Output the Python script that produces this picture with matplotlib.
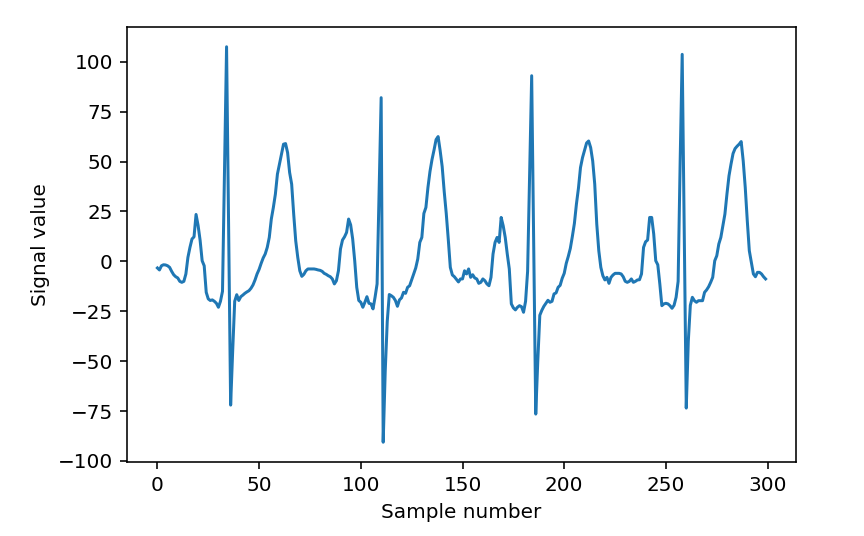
import numpy as np
import matplotlib
matplotlib.use('Agg')
import matplotlib.pyplot as plt

# Signal values (300 samples, 4 beats)
beat_1 = [-3.3, -4.3, -2.2, -1.7, -1.8, -2.2, -3.0, -5.0, -6.7, -7.7,
          -8.3, -10.0, -10.5, -10.0, -6.3, 2.0, 7.0, 11.2, 12.3, 23.5,
          18.0, 10.5, 0.3, -2.2, -15.5, -18.8, -19.6, -19.3, -20.0, -21.0,
          -23.0, -20.0, -15.0, 45.0, 107.5, 18.0, -72.0, -45.0, -20.0, -16.7,
          -19.6, -17.7, -16.9, -16.0, -15.3, -14.7, -13.5, -11.8, -9.3, -6.3]
beat_2 = [-4.0, -1.0, 1.7, 3.7, 7.0, 12.0, 21.2, 27.0, 33.7, 43.7,
          48.7, 53.7, 58.7, 59.0, 54.5, 44.5, 38.7, 23.7, 10.3, 2.0,
          -4.7, -7.5, -6.5, -4.7, -3.8, -3.8, -3.8, -3.8, -4.0, -4.3,
          -4.5, -5.0, -6.0, -6.5, -7.2, -7.7, -8.8, -11.3, -9.7, -4.7,
          6.2, 10.7, 12.3, 14.5, 21.2, 18.3, 11.2, 0.3, -13.0, -19.6]
beat_3 = [-20.5, -23.0, -20.5, -17.7, -21.0, -21.3, -23.8, -18.0, -11.3, 35.0,
          82.0, -90.6, -55.0, -30.0, -16.6, -17.2, -18.0, -19.6, -22.5, -19.3,
          -18.3, -15.5, -16.0, -13.0, -12.2, -9.3, -6.3, -3.3, 1.2, 9.5,
          12.0, 24.0, 27.0, 37.0, 45.0, 51.0, 55.8, 61.0, 62.5, 55.5,
          47.5, 35.0, 24.0, 11.0, -3.0, -6.8, -7.7, -9.0, -10.3, -8.8]
beat_4 = [-8.8, -4.7, -6.3, -3.8, -8.0, -6.7, -8.3, -8.8, -11.0, -10.5,
          -8.8, -9.7, -11.3, -12.2, -8.0, 3.7, 9.5, 12.0, 9.5, 22.0,
          17.8, 12.0, 3.7, -3.8, -21.3, -23.3, -24.3, -23.0, -22.2, -22.7,
          -25.5, -20.0, -5.0, 45.0, 93.0, 8.0, -76.5, -50.0, -27.0, -24.5,
          -22.5, -21.0, -19.5, -20.5, -20.0, -16.3, -15.8, -13.0, -12.0, -8.5]
beat_5 = [-6.0, -1.0, 2.5, 6.5, 12.5, 19.0, 28.7, 36.7, 47.0, 52.0,
          55.7, 59.3, 60.3, 57.0, 50.3, 38.7, 18.7, 5.3, -3.0, -7.2,
          -9.3, -8.0, -11.0, -8.0, -6.8, -6.0, -6.0, -6.0, -6.3, -7.7,
          -10.0, -10.5, -10.0, -8.8, -10.5, -10.0, -9.3, -9.2, -6.3, 7.0,
          9.8, 10.7, 22.0, 22.0, 13.7, 0.3, -1.7, -11.3, -22.2, -21.3]
beat_6 = [-21.0, -21.3, -22.2, -23.5, -22.0, -18.0, -10.0, 50.0, 103.7, 15.0,
          -73.5, -40.0, -22.0, -18.0, -19.7, -20.5, -19.7, -19.7, -19.7, -15.5,
          -14.3, -12.7, -10.5, -8.0, 0.3, 2.8, 8.7, 12.0, 17.8, 23.7,
          33.7, 42.8, 48.7, 54.0, 56.5, 57.7, 58.7, 60.0, 50.3, 37.0,
          20.3, 5.3, -0.5, -6.3, -7.7, -5.5, -5.5, -6.3, -7.7, -8.8]

signal = np.array(beat_1 + beat_2 + beat_3 + beat_4 + beat_5 + beat_6)
samples = np.arange(len(signal))

fig = plt.figure(figsize=(6, 536 / 144), dpi=144)
ax = fig.add_axes([127 / 864, 1 - 462 / 536, (796 - 127) / 864, (462 - 27) / 536])
ax.plot(samples, signal)
ax.set_xlabel('Sample number')
ax.set_ylabel('Signal value')

fig.savefig('out.png', dpi=144)
